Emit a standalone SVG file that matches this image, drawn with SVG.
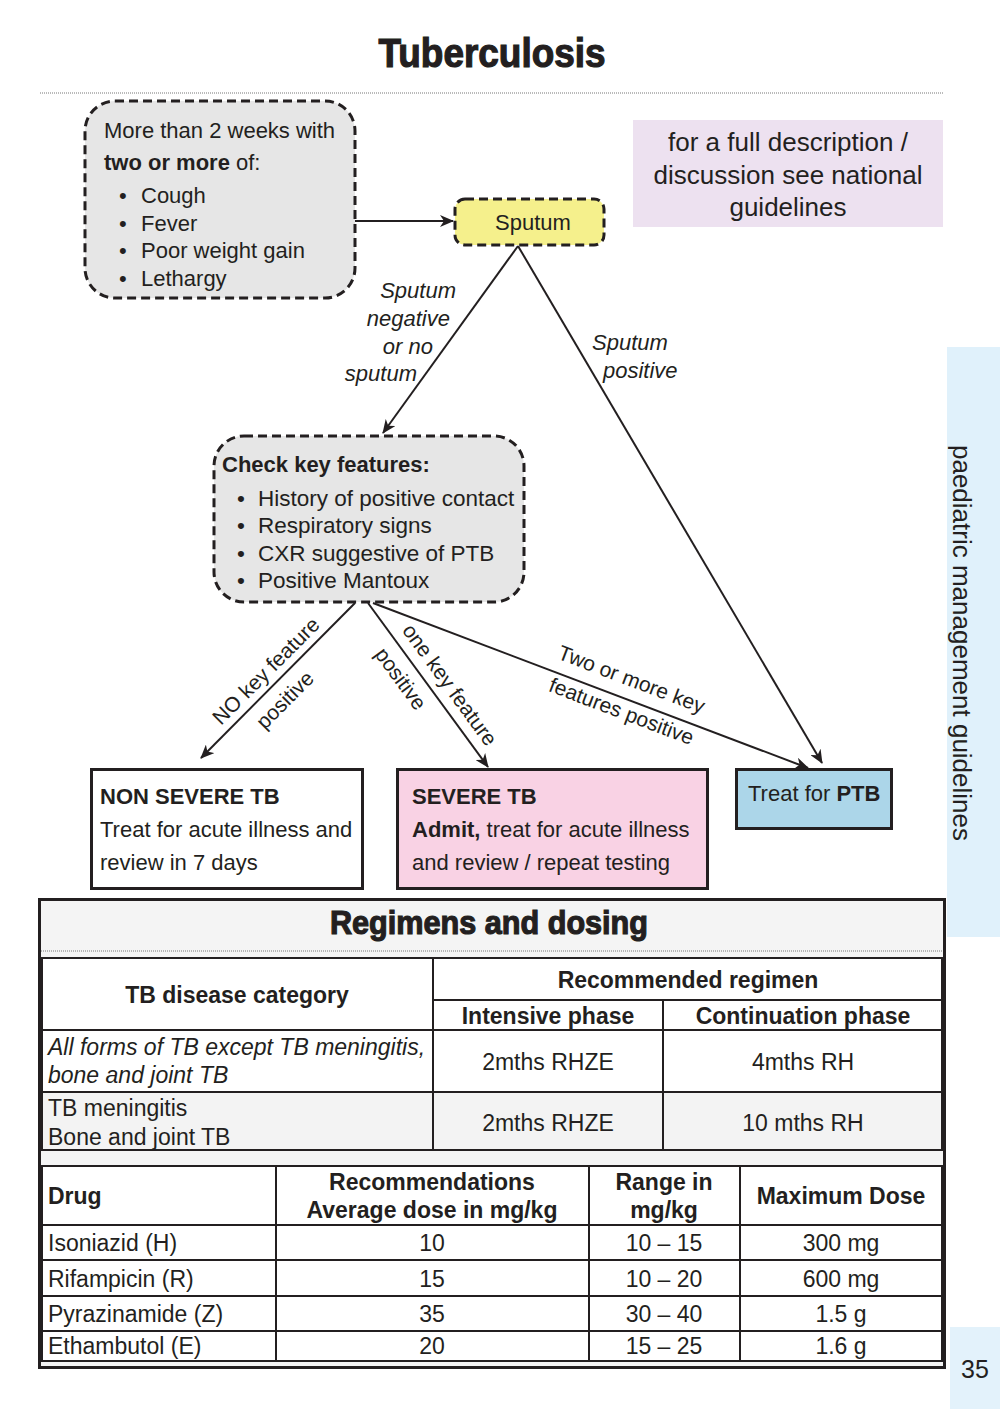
<svg xmlns="http://www.w3.org/2000/svg" width="1000" height="1409" viewBox="0 0 1000 1409">
<defs>
<style>
text{font-family:"Liberation Sans",Arial,"DejaVu Sans",sans-serif;fill:#231f20;}
.t22{font-size:22px;}
.b{font-weight:bold;}
.i{font-style:italic;}
.lbl{font-size:21px;}
.tb{font-size:23px;}
.heavy{font-weight:bold;stroke:#231f20;stroke-width:1.2;}
.dash{stroke:#231f20;stroke-width:3;stroke-dasharray:9 5;}
.cell{fill:none;stroke:#231f20;stroke-width:2;}
.conn{stroke:#231f20;stroke-width:2;fill:none;marker-end:url(#arr);}
.mid{text-anchor:middle;}
</style>
<marker id="arr" viewBox="0 0 14 12" markerWidth="14" markerHeight="12" refX="13" refY="6" orient="auto" markerUnits="userSpaceOnUse">
<path d="M0,0 L14,6 L0,12 L4,6 z" fill="#231f20"/>
</marker>
</defs>
<rect width="1000" height="1409" fill="#ffffff"/>

<!-- Title -->
<g id="title">
<text x="492" y="67" class="mid heavy" style="font-size:40px" textLength="227" lengthAdjust="spacingAndGlyphs">Tuberculosis</text>
<line x1="40" y1="93" x2="943" y2="93" stroke="#777" stroke-width="1" stroke-dasharray="1 1"/>
</g>

<!-- side tabs -->
<g id="side-tab">
<rect x="947" y="347" width="53" height="590" fill="#e0f1fb"/>
<text transform="translate(953,643) rotate(90)" class="mid" style="font-size:26px">paediatric management guidelines</text>
</g>
<g id="page-number">
<rect x="950" y="1327" width="50" height="82" fill="#e3f2fb"/>
<text x="975" y="1378" class="mid" style="font-size:25px">35</text>
</g>

<!-- Note -->
<g id="note">
<rect x="633" y="120" width="310" height="107" fill="#ede1f0"/>
<text x="788" y="151" class="mid" style="font-size:26px">for a full description /</text>
<text x="788" y="184" class="mid" style="font-size:26px">discussion see national</text>
<text x="788" y="216" class="mid" style="font-size:26px">guidelines</text>
</g>

<!-- Connectors -->
<g id="connectors">
<line class="conn" x1="355" y1="221" x2="453" y2="221"/>
<line class="conn" x1="518" y1="246" x2="383" y2="433"/>
<line class="conn" x1="518" y1="246" x2="822" y2="763"/>
<line class="conn" x1="355" y1="603" x2="201" y2="758"/>
<line class="conn" x1="368" y1="603" x2="488" y2="767"/>
<line class="conn" x1="373" y1="603" x2="808" y2="768"/>
</g>

<g id="connector-labels">
<text x="456" y="298" class="t22 i" text-anchor="end">Sputum</text>
<text x="450" y="326" class="t22 i" text-anchor="end">negative</text>
<text x="433" y="354" class="t22 i" text-anchor="end">or no</text>
<text x="417" y="381" class="t22 i" text-anchor="end">sputum</text>
<text x="592" y="350" class="t22 i">Sputum</text>
<text x="603" y="378" class="t22 i">positive</text>
<text transform="translate(271,676) rotate(-45)" class="lbl mid">NO key feature</text>
<text transform="translate(290,705) rotate(-45)" class="lbl mid">positive</text>
<text transform="translate(444,689) rotate(54)" class="lbl mid">one key feature</text>
<text transform="translate(395,683) rotate(54)" class="lbl mid">positive</text>
<text transform="translate(629,686) rotate(20.9)" class="lbl mid">Two or more key</text>
<text transform="translate(619,718) rotate(20.9)" class="lbl mid">features positive</text>
</g>

<!-- Nodes -->
<g id="symptoms">
<rect x="85" y="101" width="270" height="197" rx="30" fill="#e6e6e6" class="dash"/>
<text x="104" y="138" class="t22">More than 2 weeks with</text>
<text x="104" y="170" class="t22"><tspan class="b">two or more</tspan> of:</text>
<text x="119" y="203" class="t22">•</text><text x="141" y="203" class="t22">Cough</text>
<text x="119" y="231" class="t22">•</text><text x="141" y="231" class="t22">Fever</text>
<text x="119" y="258" class="t22">•</text><text x="141" y="258" class="t22">Poor weight gain</text>
<text x="119" y="286" class="t22">•</text><text x="141" y="286" class="t22">Lethargy</text>
</g>

<g id="sputum">
<rect x="455" y="199" width="149" height="46" rx="10" fill="#f5f08c" class="dash"/>
<text x="533" y="230" class="t22 mid">Sputum</text>
</g>

<g id="key-features">
<rect x="214" y="436" width="310" height="166" rx="30" fill="#e6e6e6" class="dash"/>
<text x="222" y="472" class="t22 b">Check key features:</text>
<text x="237" y="506" style="font-size:22.5px">•</text><text x="258" y="506" style="font-size:22.5px">History of positive contact</text>
<text x="237" y="533" style="font-size:22.5px">•</text><text x="258" y="533" style="font-size:22.5px">Respiratory signs</text>
<text x="237" y="561" style="font-size:22.5px">•</text><text x="258" y="561" style="font-size:22.5px">CXR suggestive of PTB</text>
<text x="237" y="588" style="font-size:22.5px">•</text><text x="258" y="588" style="font-size:22.5px">Positive Mantoux</text>
</g>

<g id="non-severe">
<rect x="91.5" y="769.5" width="271" height="119" fill="#ffffff" stroke="#231f20" stroke-width="3"/>
<text x="100" y="804" class="t22 b">NON SEVERE TB</text>
<text x="100" y="837" class="t22">Treat for acute illness and</text>
<text x="100" y="870" class="t22">review in 7 days</text>
</g>

<g id="severe">
<rect x="397.5" y="769.5" width="310" height="119" fill="#f9d2e4" stroke="#231f20" stroke-width="3"/>
<text x="412" y="804" class="t22 b">SEVERE TB</text>
<text x="412" y="837" class="t22"><tspan class="b">Admit,</tspan> treat for acute illness</text>
<text x="412" y="870" class="t22">and review / repeat testing</text>
</g>

<g id="ptb">
<rect x="736.5" y="769.5" width="155" height="59" fill="#acd6e9" stroke="#231f20" stroke-width="3"/>
<text x="748" y="801" class="t22">Treat for <tspan class="b">PTB</tspan></text>
</g>

<!-- Regimens and dosing -->
<g id="regimens">
<rect x="39.5" y="899.5" width="905" height="468" fill="#f4f4f4" stroke="#231f20" stroke-width="3"/>
<text x="489" y="934" class="mid heavy" style="font-size:34px" textLength="318" lengthAdjust="spacingAndGlyphs">Regimens and dosing</text>
<line x1="41" y1="951" x2="943" y2="951" stroke="#777" stroke-width="1" stroke-dasharray="1 1"/>

<g id="regimen-table">
<rect x="42" y="958" width="900" height="134" fill="#ffffff"/>
<rect x="42" y="1092" width="900" height="58" fill="#f3f3f3"/>
<rect x="42" y="958" width="900" height="192" class="cell"/>
<line x1="433" y1="958" x2="433" y2="1150" class="cell"/>
<line x1="663" y1="1000" x2="663" y2="1150" class="cell"/>
<line x1="433" y1="1000" x2="942" y2="1000" class="cell"/>
<line x1="42" y1="1030" x2="942" y2="1030" class="cell"/>
<line x1="42" y1="1092" x2="942" y2="1092" class="cell"/>
<text x="237" y="1003" class="tb b mid">TB disease category</text>
<text x="688" y="988" class="tb b mid">Recommended regimen</text>
<text x="548" y="1024" class="tb b mid">Intensive phase</text>
<text x="803" y="1024" class="tb b mid">Continuation phase</text>
<text x="48" y="1055" class="tb i">All forms of TB except TB meningitis,</text>
<text x="48" y="1083" class="tb i">bone and joint TB</text>
<text x="548" y="1070" class="tb mid">2mths RHZE</text>
<text x="803" y="1070" class="tb mid">4mths RH</text>
<text x="48" y="1116" class="tb">TB meningitis</text>
<text x="48" y="1145" class="tb">Bone and joint TB</text>
<text x="548" y="1131" class="tb mid">2mths RHZE</text>
<text x="803" y="1131" class="tb mid">10 mths RH</text>
</g>

<g id="dosing-table">
<rect x="42" y="1166" width="900" height="195" fill="#ffffff"/>
<rect x="42" y="1166" width="900" height="195" class="cell"/>
<line x1="276" y1="1166" x2="276" y2="1361" class="cell"/>
<line x1="589" y1="1166" x2="589" y2="1361" class="cell"/>
<line x1="740" y1="1166" x2="740" y2="1361" class="cell"/>
<line x1="42" y1="1225" x2="942" y2="1225" class="cell"/>
<line x1="42" y1="1260" x2="942" y2="1260" class="cell"/>
<line x1="42" y1="1296" x2="942" y2="1296" class="cell"/>
<line x1="42" y1="1331" x2="942" y2="1331" class="cell"/>
<text x="48" y="1204" class="tb b">Drug</text>
<text x="432" y="1190" class="tb b mid">Recommendations</text>
<text x="432" y="1218" class="tb b mid">Average dose in mg/kg</text>
<text x="664" y="1190" class="tb b mid">Range in</text>
<text x="664" y="1218" class="tb b mid">mg/kg</text>
<text x="841" y="1204" class="tb b mid">Maximum Dose</text>
<text x="48" y="1251" class="tb">Isoniazid (H)</text>
<text x="432" y="1251" class="tb mid">10</text>
<text x="664" y="1251" class="tb mid">10 – 15</text>
<text x="841" y="1251" class="tb mid">300 mg</text>
<text x="48" y="1287" class="tb">Rifampicin (R)</text>
<text x="432" y="1287" class="tb mid">15</text>
<text x="664" y="1287" class="tb mid">10 – 20</text>
<text x="841" y="1287" class="tb mid">600 mg</text>
<text x="48" y="1322" class="tb">Pyrazinamide (Z)</text>
<text x="432" y="1322" class="tb mid">35</text>
<text x="664" y="1322" class="tb mid">30 – 40</text>
<text x="841" y="1322" class="tb mid">1.5 g</text>
<text x="48" y="1354" class="tb">Ethambutol (E)</text>
<text x="432" y="1354" class="tb mid">20</text>
<text x="664" y="1354" class="tb mid">15 – 25</text>
<text x="841" y="1354" class="tb mid">1.6 g</text>
</g>
</g>
</svg>
